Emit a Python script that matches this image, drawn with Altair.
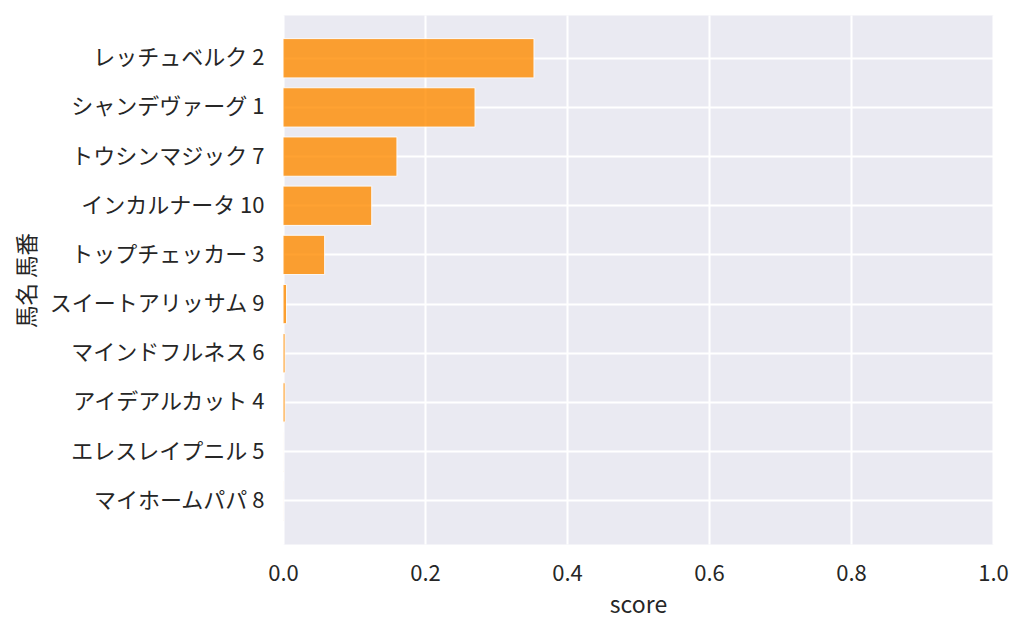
import altair as alt
import pandas as pd

names = ["レッチュベルク 2", "シャンデヴァーグ 1", "トウシンマジック 7", "インカルナータ 10",
         "トップチェッカー 3", "スイートアリッサム 9", "マインドフルネス 6", "アイデアルカット 4",
         "エレスレイプニル 5", "マイホームパパ 8"]
scores = [0.3535, 0.2705, 0.1605, 0.1250, 0.0587, 0.0050, 0.0030, 0.0030, 0.0008, 0.0002]

df = pd.DataFrame({"name": names, "score": scores})

FONT = "Noto Sans CJK JP"
TXT = "#262626"

chart = alt.Chart(df).mark_bar(
    color="#ff8c00", opacity=0.8, stroke="white", strokeWidth=1
).encode(
    x=alt.X("score:Q", title="score",
            scale=alt.Scale(domain=[0, 1], nice=False),
            axis=alt.Axis(values=[0, 0.2, 0.4, 0.6, 0.8, 1.0], format=".1f",
                          grid=True, gridColor="white", gridWidth=2,
                          domain=False, ticks=False, labelPadding=19, labelFlush=False,
                          labelFontSize=22, titleFontSize=23, titlePadding=10,
                          labelColor=TXT, titleColor=TXT, labelFont=FONT, titleFont=FONT,
                          titleFontWeight="normal")),
    y=alt.Y("name:N", title="馬名 馬番", sort=names,
            scale=alt.Scale(paddingInner=0.2, paddingOuter=0.48),
            axis=alt.Axis(grid=True, gridColor="white", gridWidth=2, bandPosition=0.5,
                          domain=False, ticks=False, labelPadding=19, labelLimit=400,
                          labelFontSize=22, titleFontSize=22.5,
                          labelColor=TXT, titleColor=TXT, labelFont=FONT, titleFont=FONT,
                          titleFontWeight="normal", titleX=-256, titleY=265,
                          titleAngle=270, titleBaseline="middle", titleAlign="center")),
).properties(
    width=710, height=529,
    autosize=alt.AutoSizeParams(type="none"),
    padding={"left": 275, "top": 7, "right": 23, "bottom": 82},
).configure(
    background="white"
).configure_view(
    fill="#eaeaf2", stroke="transparent"
)

chart.save("out.html", embed_options={"renderer": "svg", "actions": False})
